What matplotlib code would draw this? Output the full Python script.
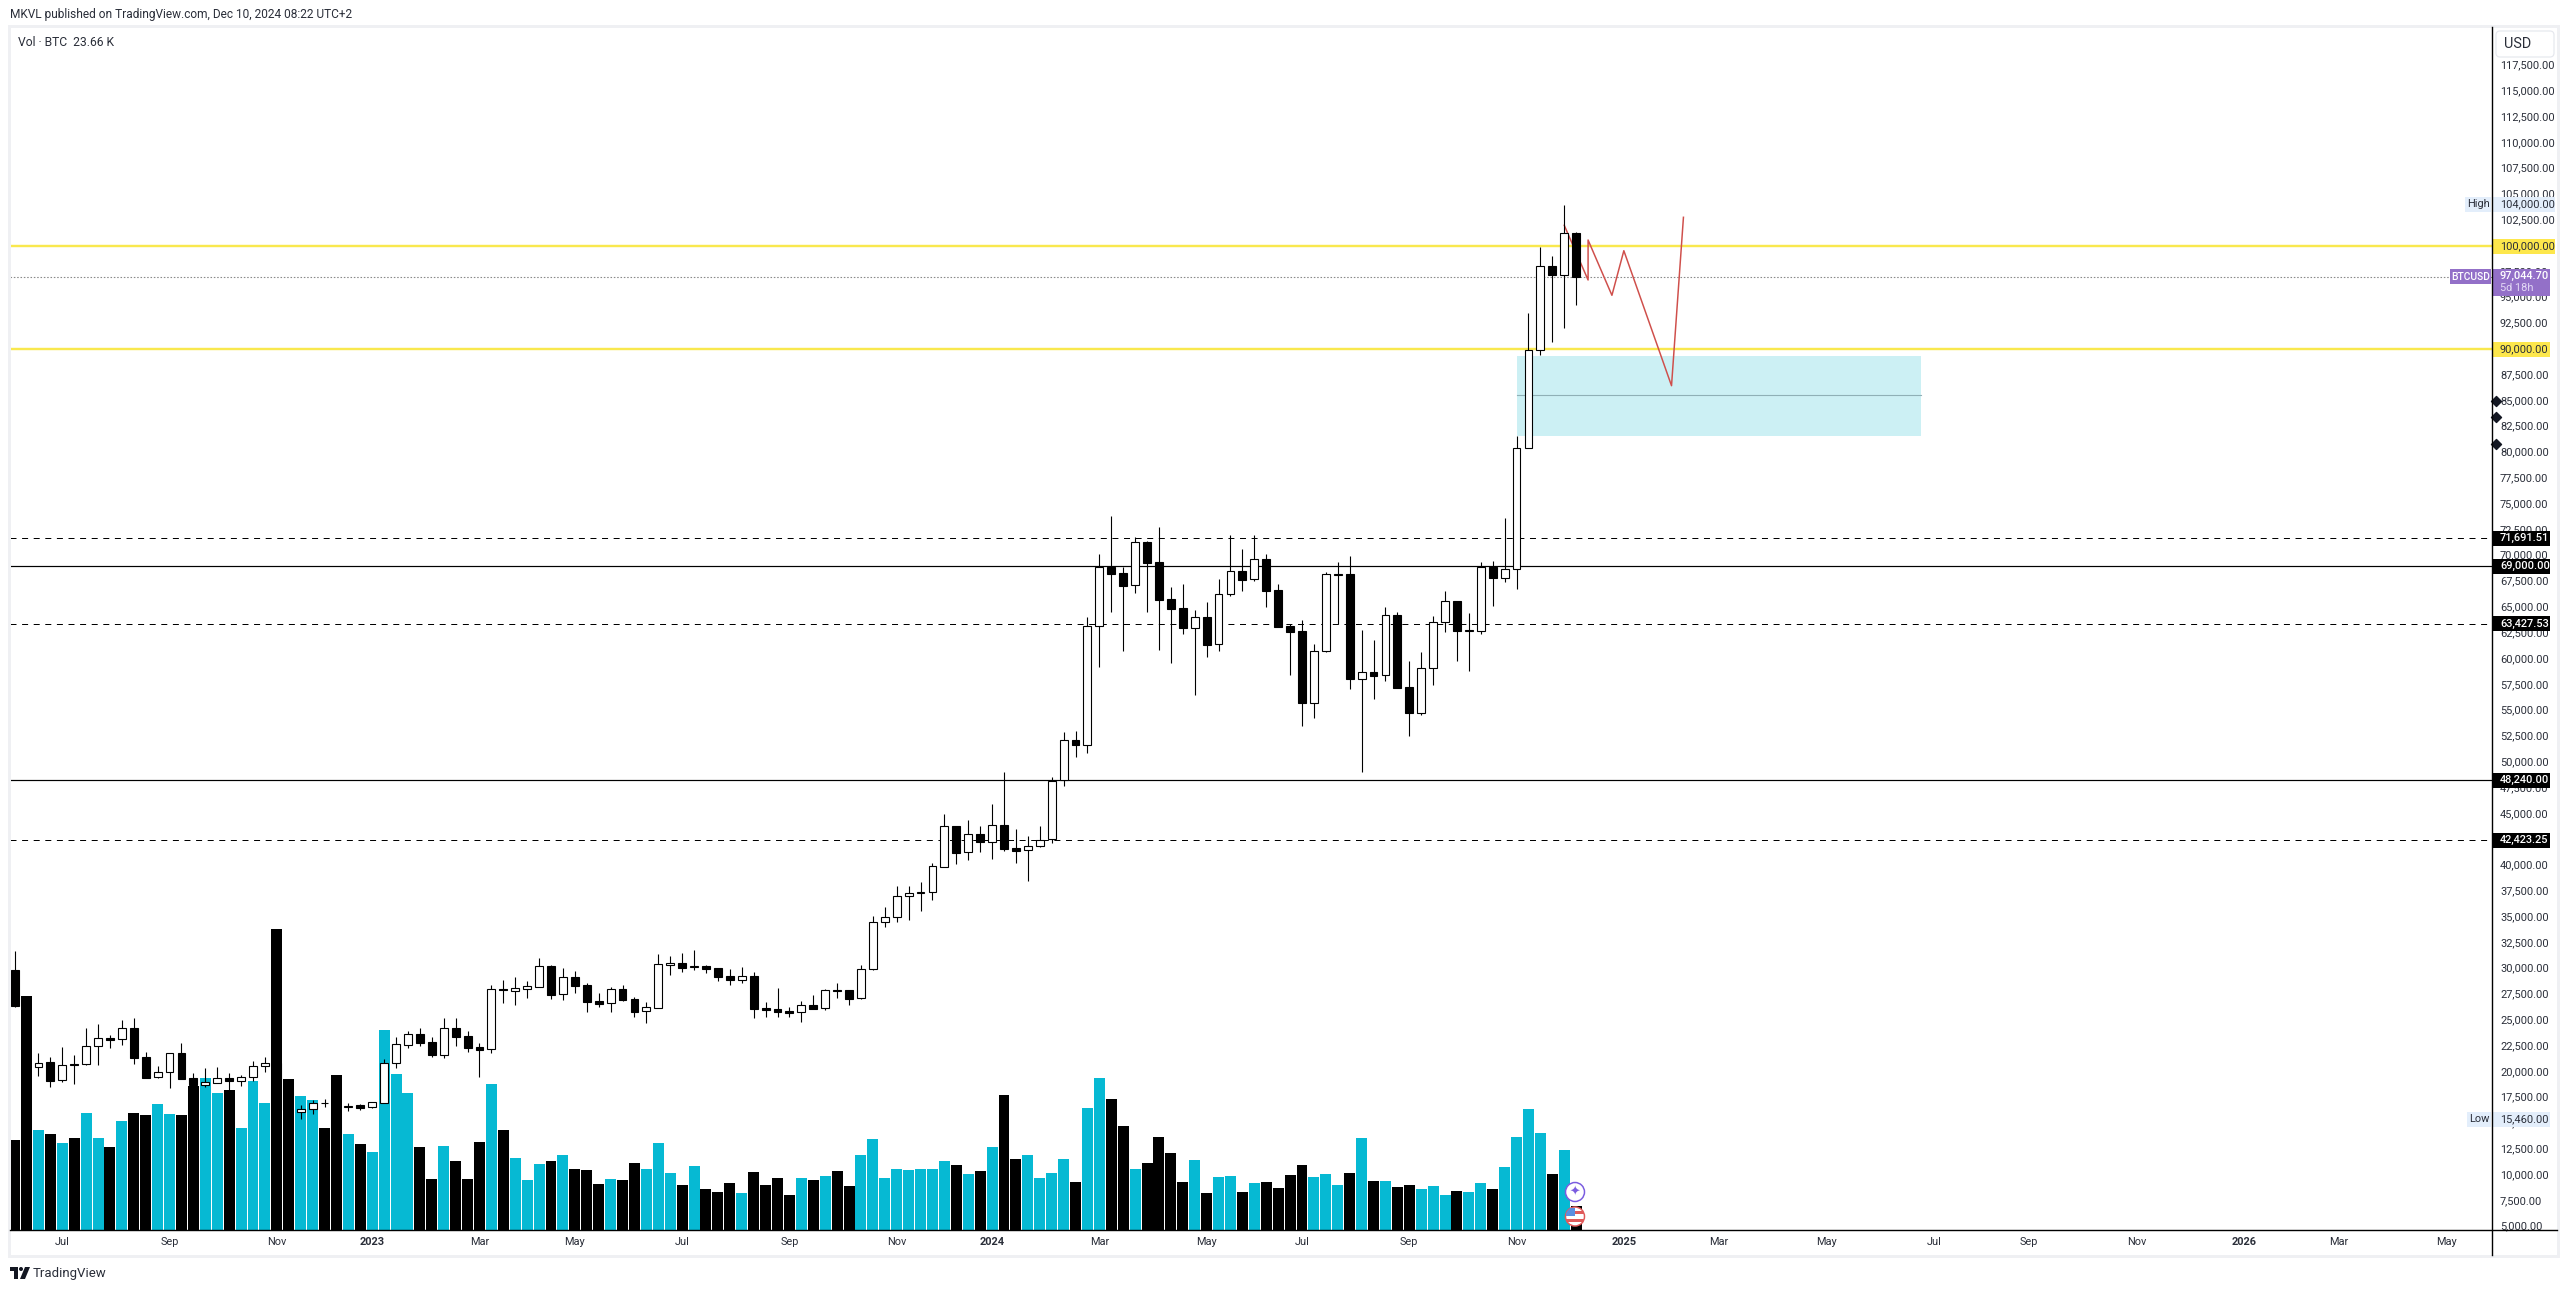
import matplotlib
matplotlib.use("Agg")
import matplotlib.pyplot as plt
from matplotlib.patches import Rectangle, FancyBboxPatch, Circle, Polygon

# weekly candles, values (index 0 = first visible week)
opens = [29870, 26380, 20440, 20920, 19180, 20730, 20730, 22470, 23280, 23150,
         24250, 21440, 19470, 19950, 21830, 19370, 18690, 18950, 19400, 19150,
         19470, 20530, 20830, 16300, 16140, 16370, 17010, 16950, 16600, 16760,
         16560, 17010, 20830, 22630, 23670, 22860, 21670, 24250, 23470, 22410,
         22180, 28030, 27860, 28060, 28250, 30220, 27510, 29160, 28410, 26830,
         26640, 28030, 27060, 25860, 26220, 30380, 30510, 30150, 30250, 30060,
         29290, 28930, 29290, 26150, 26090, 25900, 25770, 26440, 26150, 27930,
         27900, 27120, 29930, 34480, 34970, 37000, 37360, 37390, 39880, 43780,
         41260, 43010, 42230, 43880, 41650, 41460, 41910, 42520, 48240, 52120,
         51690, 63160, 68930, 68290, 67190, 71330, 69390, 65810, 64900, 63020,
         64060, 61420, 66260, 68520, 67710, 69650, 66680, 63190, 62710, 55760,
         60740, 68150, 68230, 58080, 58730, 58410, 64260, 57280, 54790, 59090,
         63550, 65580, 62730, 62730, 68930, 67870, 68680, 80400, 89900, 98030,
         97220, 101260]
highs = [31740, 26900, 21790, 21410, 22380, 21600, 24250, 24640, 23540, 25020,
         25220, 21920, 20570, 21800, 22800, 19860, 20370, 20470, 19860, 19730,
         21020, 21440, 21000, 17200, 16760, 17270, 17340, 18400, 17010, 16890,
         17080, 21210, 23340, 23930, 24250, 23340, 25220, 25220, 23930, 22830,
         28380, 28900, 29160, 28800, 31030, 30350, 30030, 29770, 28580, 27610,
         28190, 28410, 27280, 26730, 31420, 31220, 31480, 31800, 30350, 30060,
         29960, 30160, 29640, 26730, 28120, 26310, 26830, 27440, 27990, 28570,
         27900, 30350, 35070, 35970, 38000, 38000, 38390, 40200, 44950, 43790,
         44400, 43820, 45950, 49010, 43530, 42850, 43820, 48530, 52890, 53020,
         64030, 70160, 73850, 68900, 71780, 71400, 72780, 66940, 67260, 64740,
         65510, 67740, 71980, 70650, 71980, 70160, 67260, 63380, 63770, 61450,
         68420, 69390, 69970, 62800, 61830, 65030, 64520, 59770, 60670, 64160,
         66580, 65640, 64450, 69390, 69490, 73650, 81600, 93510, 99870, 99030,
         104000, 101330]
lows = [26300, 17600, 19600, 18560, 19020, 18820, 20700, 20700, 22310, 22600,
        20760, 19400, 19440, 18440, 19300, 18130, 18500, 18950, 18100, 18630,
        19110, 20020, 15460, 16000, 15470, 15920, 16600, 16300, 16210, 16270,
        16530, 16950, 20370, 22340, 22500, 21470, 21340, 22500, 21960, 19530,
        21860, 26700, 26480, 27120, 28190, 27090, 26990, 27670, 25830, 26250,
        25830, 26900, 25350, 24760, 26200, 29410, 29670, 29870, 29540, 28830,
        28410, 28640, 25250, 25350, 25350, 25350, 24860, 26100, 26020, 27190,
        26480, 27090, 29900, 34060, 34520, 34740, 35580, 36650, 39870, 40130,
        40520, 41300, 40620, 41430, 40230, 38490, 41810, 42200, 47720, 50530,
        50920, 59250, 64570, 60800, 66420, 64570, 60870, 59630, 62410, 56530,
        60210, 60800, 66100, 66580, 67550, 65060, 63100, 58440, 53500, 54280,
        60700, 63380, 57090, 49050, 56120, 57860, 57200, 52530, 54570, 57470,
        62640, 59800, 58830, 62410, 65130, 67450, 66770, 80400, 89470, 90730,
        92090, 94310]
closes = [26380, 20500, 20890, 19150, 20700, 20660, 22470, 23250, 23120, 24220,
          21370, 19440, 19950, 21790, 19340, 18700, 18980, 19370, 19150, 19470,
          20530, 20830, 16300, 16280, 16400, 17010, 16950, 16750, 16660, 16530,
          17050, 20830, 22670, 23630, 22830, 21630, 24220, 23410, 22340, 22150,
          27990, 27960, 28090, 28280, 30220, 27480, 29160, 28350, 26800, 26570,
          27990, 26960, 25830, 26250, 30420, 30540, 30060, 30220, 30000, 29220,
          28930, 29250, 26120, 26020, 25830, 25730, 26440, 26120, 27900, 27860,
          27090, 29930, 34480, 34970, 37000, 37290, 37420, 39910, 43780, 41230,
          43010, 42230, 43880, 41620, 41430, 41910, 42490, 48210, 52120, 51660,
          63160, 68930, 68230, 67090, 71300, 69320, 65740, 64840, 63020, 64030,
          61380, 66260, 68490, 67670, 69650, 66610, 63120, 62610, 55760, 60740,
          68200, 68200, 58080, 58700, 58350, 64230, 57210, 54790, 59090, 63550,
          65580, 62730, 62780, 68930, 67870, 68680, 80400, 89900, 98030, 97220,
          101230, 97045]
# volume in thousands of BTC
volumes = [90, 234, 100, 96, 87, 92, 117, 92, 83, 109,
           117, 115, 126, 116, 115, 144, 152, 137, 140, 102,
           149, 127, 301, 151, 134, 130, 102, 155, 96, 86,
           78, 200, 156, 137, 83, 51, 84, 69, 51, 88,
           146, 100, 72, 50, 66, 69, 75, 61, 60, 46,
           51, 50, 67, 61, 87, 57, 45, 64, 41, 38,
           47, 37, 58, 45, 52, 35, 52, 50, 54, 59,
           44, 75, 91, 52, 61, 60, 61, 61, 69, 65,
           56, 59, 83, 135, 71, 75, 52, 57, 71, 48,
           122, 152, 131, 104, 61, 67, 93, 77, 48, 70,
           37, 53, 54, 38, 47, 48, 42, 55, 65, 53,
           56, 45, 57, 92, 49, 49, 43, 45, 41, 44,
           35, 39, 38, 47, 41, 63, 93, 121, 97, 56,
           80, 23.66]

# x axis labels, bar index of each one
x_tick_pos = [4, 13, 22, 30, 39, 47, 56, 65, 74, 82, 91, 100, 108, 117, 126, 135,
              143, 152, 161, 169, 178, 187, 195, 204]
x_tick_txt = ["Jul", "Sep", "Nov", "2023", "Mar", "May", "Jul", "Sep", "Nov", "2024",
              "Mar", "May", "Jul", "Sep", "Nov", "2025", "Mar", "May", "Jul", "Sep",
              "Nov", "2026", "Mar", "May"]
price_ticks = list(range(5000, 117501, 2500))

# drawn levels and shapes
yellow_levels = [100000, 90000]
solid_levels = [69000, 48240]
dashed_levels = [71691.51, 63427.53, 42423.25]
last_price = 97044.70
box_x = [126.04, 159.9]
box_y = [81624, 89344]
box_mid = 85537
path_x = [130, 132, 132, 134, 135, 139, 140]
path_y = [102006, 96706, 100581, 95224, 99545, 86467, 102780]
marker_prices = [85014, 83416, 80800]

W, H = 2568, 1291
LEFT, RIGHT, TOP, BOTTOM = 10, 2492, 27, 1230
Y_MIN, Y_MAX = 4680, 121214
TEAL = "#06b9d3"
TXT = "#2a2e39"
px = 1 / 1.389  # points per pixel at dpi 100

plt.rcParams["font.family"] = ["Roboto", "DejaVu Sans"]
fig = plt.figure(figsize=(W / 100, H / 100), dpi=100, facecolor="white")
rect = [LEFT / W, 1 - BOTTOM / H, (RIGHT - LEFT) / W, (BOTTOM - TOP) / H]

# volume pane sits below the price pane
ax_vol = fig.add_axes(rect, zorder=1)
ax = fig.add_axes(rect, zorder=2)
ax.patch.set_alpha(0)
xlim = (-0.386, 207.83)

idx = list(range(len(opens)))
vol_colors = [TEAL if c >= o else "black" for o, c in zip(opens, closes)]
ax_vol.bar(idx, volumes, width=0.92, color=vol_colors, linewidth=0)
ax_vol.set_xlim(*xlim)
ax_vol.set_ylim(0, BOTTOM - TOP)
ax_vol.axis("off")

# box and levels
ax.add_patch(Rectangle((box_x[0], box_y[0]), box_x[1] - box_x[0], box_y[1] - box_y[0],
                       facecolor="#ccf0f4", edgecolor="none", zorder=1))
ax.plot(box_x, [box_mid, box_mid], color="#8fb0b6", lw=1.1 * px, zorder=1.5)
for lvl in yellow_levels:
    ax.axhline(lvl, color="#f9e84e", lw=2.4 * px, zorder=2)
for lvl in solid_levels:
    ax.axhline(lvl, color="black", lw=1.2 * px, zorder=2)
for lvl in dashed_levels:
    ax.axhline(lvl, color="black", lw=1.0 * px, linestyle=(0, (6, 5.6)), zorder=2)
ax.axhline(last_price, color="#8a8a8a", lw=0.8, linestyle=(0, (1.4, 1.6)), zorder=2)
ax.plot(path_x, path_y, color="#cf4f4b", lw=1.5 * px, zorder=2.5)

# candles
ax.vlines(idx, lows, highs, color="black", lw=1.1 * px, zorder=3)
body_low = [min(o, c) for o, c in zip(opens, closes)]
body_h = [abs(c - o) for o, c in zip(opens, closes)]
body_col = ["white" if c >= o else "black" for o, c in zip(opens, closes)]
ax.bar(idx, body_h, bottom=body_low, width=0.66, color=body_col, edgecolor="black",
       linewidth=1.1 * px, zorder=4)

ax.set_xlim(*xlim)
ax.set_ylim(Y_MIN, Y_MAX)
for s in ax.spines.values():
    s.set_visible(False)
ax.yaxis.tick_right()
ax.set_yticks(price_ticks)
ax.set_yticklabels([f"{p:,.2f}" for p in price_ticks], fontsize=7.9, color=TXT, va="center")
ax.set_xticks(x_tick_pos)
ax.set_xticklabels(x_tick_txt, fontsize=7.9, color=TXT)
ax.tick_params(axis="both", length=0)
ax.tick_params(axis="y", pad=8 * px)
ax.tick_params(axis="x", pad=7 * px)
for lab in ax.get_xticklabels():
    if lab.get_text().isdigit():
        lab.set_fontweight("bold")

# small diamonds next to the price axis
ax.scatter([1.0015] * 3, marker_prices, marker="D", s=26, color="#131722",
           transform=ax.get_yaxis_transform(), clip_on=False, zorder=6)

# everything around the chart in pixel coordinates
ov = fig.add_axes([0, 0, 1, 1], zorder=5)
ov.set_xlim(0, W)
ov.set_ylim(H, 0)
ov.axis("off")
ov.patch.set_alpha(0)


def price_y(p):
    return TOP + (Y_MAX - p) / (Y_MAX - Y_MIN) * (BOTTOM - TOP)


def tag(x0, x1, y0, y1, color):
    ov.add_patch(Rectangle((x0, y0), x1 - x0, y1 - y0, facecolor=color, edgecolor="none"))


# outer frame
ov.add_patch(Rectangle((8.5, 26), 2549, 1229.5, fill=False, edgecolor="#eff0f3", lw=3 * px))
ov.plot([RIGHT, RIGHT], [TOP, 1255], color="black", lw=1.4 * px)
ov.plot([LEFT, 2557], [BOTTOM, BOTTOM], color="black", lw=1.4 * px)

ov.text(10, 14.5, "MKVL published on TradingView.com, Dec 10, 2024 08:22 UTC+2",
        fontsize=8.55, color=TXT, va="center")
ov.text(18, 42, "Vol · BTC  23.66 K", fontsize=8.7, color=TXT, va="center")

# USD button
ov.add_patch(FancyBboxPatch((2498, 33), 54, 22, boxstyle="round,pad=2,rounding_size=4",
                            facecolor="white", edgecolor="#e6e8ee", lw=1.2 * px, zorder=3))
ov.text(2518, 44, "USD", fontsize=10.4, color=TXT, ha="center", va="center", zorder=4)

# high / low
tag(2465, 2491, 197, 212, "#e3eefb")
tag(2493, 2555, 197, 212, "#e3eefb")
ov.text(2478, 204, "High", fontsize=7.9, color=TXT, ha="center", va="center")
ov.text(2500, 204, "104,000.00", fontsize=7.9, color=TXT, va="center")
tag(2467, 2491, 1112, 1127, "#e3eefb")
tag(2493, 2550, 1112, 1127, "#e3eefb")
ov.text(2479, 1119, "Low", fontsize=7.9, color=TXT, ha="center", va="center")
ov.text(2500, 1119, "15,460.00", fontsize=7.9, color=TXT, va="center")

# yellow level tags
tag(2493, 2555, 239, 254, "#fde74c")
ov.text(2500, price_y(100000), "100,000.00", fontsize=7.9, color=TXT, va="center")
tag(2493, 2550, 342, 357, "#fde74c")
ov.text(2500, price_y(90000), "90,000.00", fontsize=7.9, color=TXT, va="center")

# last price
tag(2450, 2491, 269, 284, "#9370c8")
ov.text(2471, 276.5, "BTCUSD", fontsize=7.4, color="white", fontweight="medium", ha="center", va="center")
tag(2493, 2550, 269, 296, "#9370c8")
ov.text(2500, 276, "97,044.70", fontsize=7.9, color="white", fontweight="medium", va="center")
ov.text(2500, 288, "5d 18h", fontsize=7.9, color="#e3d8f5", va="center")

# black level tags
for lvl in dashed_levels + solid_levels:
    yc = price_y(lvl)
    tag(2493, 2550, yc - 7.5, yc + 7.5, "black")
    ov.text(2500, yc, f"{lvl:,.2f}", fontsize=7.9, color="white", fontweight="medium", va="center")

# event badges on the last bar
ov.add_patch(Circle((1575, 1192), 9.5, facecolor="white", edgecolor="#7a5ce0", lw=1.5 * px))
ov.text(1575, 1192, "\u2726", fontsize=9, color="#7a5ce0", family="DejaVu Sans", ha="center", va="center")
flag = Circle((1575, 1216.5), 9.5, facecolor="white", edgecolor="#e05a5a", lw=1.5 * px)
ov.add_patch(flag)
for sy in [1211, 1219]:
    st = Rectangle((1566, sy), 18, 3, facecolor="#e05a5a", edgecolor="none")
    ov.add_patch(st)
    st.set_clip_path(flag)
st = Rectangle((1566, 1208), 9, 8, facecolor="#5a8fe0", edgecolor="none")
ov.add_patch(st)
st.set_clip_path(flag)

# TradingView mark
ov.add_patch(Polygon([(10, 1267), (18, 1267), (18, 1279), (14, 1279), (14, 1271), (10, 1271)],
                     facecolor="#131722", edgecolor="none"))
ov.add_patch(Circle((21, 1269), 2, facecolor="#131722", edgecolor="none"))
ov.add_patch(Polygon([(25, 1267), (30, 1267), (25, 1279), (20, 1279)],
                     facecolor="#131722", edgecolor="none"))
ov.text(33, 1273, "TradingView", fontsize=9.5, color=TXT, va="center")

fig.savefig("out.png", dpi=100, facecolor="white")
